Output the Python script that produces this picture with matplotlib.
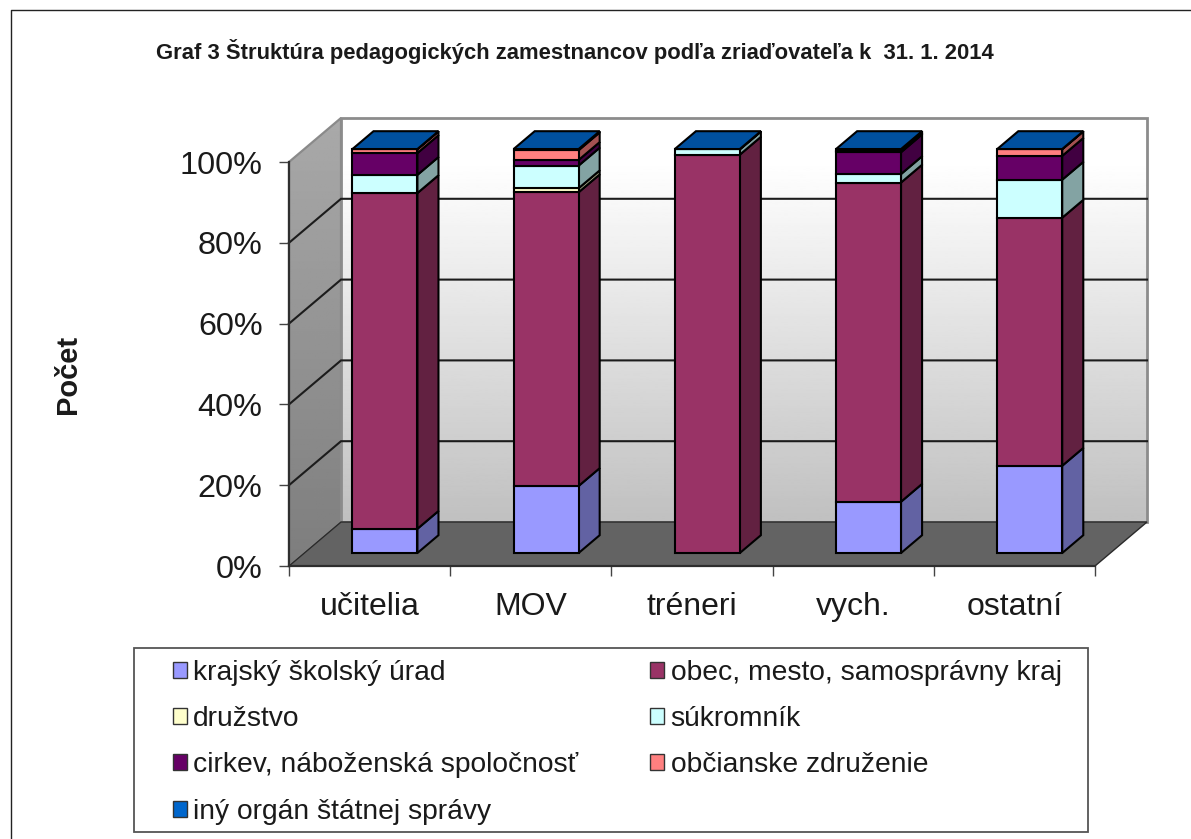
import numpy as np
import matplotlib
matplotlib.use("Agg")
import matplotlib.pyplot as plt
from matplotlib.patches import Polygon, Patch, Rectangle
from matplotlib.lines import Line2D
from matplotlib.colors import to_rgb

categories = ["učitelia", "MOV", "tréneri", "vych.", "ostatní"]
krajsky = [6.0, 16.6, 0.0, 12.7, 21.6]
obec = [83.1, 72.7, 98.6, 79.0, 61.4]
druzstvo = [0.0, 1.0, 0.0, 0.0, 0.0]
sukromnik = [4.5, 5.6, 1.3, 2.1, 9.4]
cirkev = [5.4, 1.4, 0.0, 5.4, 5.9]
obcianske = [0.95, 2.4, 0.0, 0.3, 1.65]
iny = [0.05, 0.3, 0.1, 0.5, 0.05]
series_labels = ["krajský školský úrad", "obec, mesto, samosprávny kraj", "družstvo",
                 "súkromník", "cirkev, náboženská spoločnosť", "občianske združenie",
                 "iný orgán štátnej správy"]
series_values = [krajsky, obec, druzstvo, sukromnik, cirkev, obcianske, iny]
series_colors = ["#9999FF", "#993366", "#FFFFCC", "#CCFFFF", "#660066", "#FF8080", "#0066CC"]
y_ticks = [0, 20, 40, 60, 80, 100]

W, H = 1191, 839
plt.rcParams["font.family"] = ["Liberation Sans", "DejaVu Sans"]
fig = plt.figure(figsize=(W / 100, H / 100), dpi=100, facecolor="white")

# front plane of the plot, in pixels
L, R, T, B = 289, 1095, 162, 566
ax = fig.add_axes([L / W, 1 - B / H, (R - L) / W, (B - T) / H], facecolor="none")
ax.set_xlim(0, 5)
ax.set_ylim(0, 100)

# oblique depth in data units
DX = 52 / ((R - L) / 5)
DY = 44 / ((B - T) / 100)
BAR_W = 0.403
D0, D1 = 0.295, 0.70


def proj(x, y, d):
    return (x + d * DX, y + d * DY)


def shade(c, f):
    return tuple(v * f for v in to_rgb(c))


# back wall gradient
grad = np.linspace(1.0, 0.0, 256).reshape(-1, 1)
wall_vals = 0.753 + (1 - 0.753) * np.clip(grad * 1.12, 0, 1)
ax.imshow(wall_vals, cmap="gray", vmin=0, vmax=1, aspect="auto", origin="upper",
          extent=[DX, 5 + DX, DY, 100 + DY], clip_on=False, zorder=1)

# side wall gradient clipped to a parallelogram
side_pts = [proj(0, 0, 0), proj(0, 0, 1), proj(0, 100, 1), proj(0, 100, 0)]
side_img = ax.imshow(np.linspace(0.665, 0.49, 256).reshape(-1, 1), cmap="gray", vmin=0, vmax=1,
                     aspect="auto", origin="upper", extent=[0, DX, 0, 100 + DY], zorder=1)
side_clip = Polygon(side_pts, transform=ax.transData)
side_img.set_clip_path(side_clip)
side_img.set_clip_box(fig.bbox)
ax.set_xlim(0, 5)
ax.set_ylim(0, 100)

# wall outline
ax.add_patch(Polygon(side_pts, closed=True, fill=False, ec="#8A8A8A", lw=1.6, zorder=2, clip_on=False))
ax.add_patch(Polygon([proj(0, 0, 1), proj(5, 0, 1), proj(5, 100, 1), proj(0, 100, 1)], closed=True,
                     fill=False, ec="#8C8C8C", lw=2.0, zorder=2, clip_on=False))

# floor
ax.add_patch(Polygon([proj(0, 0, 0), proj(5, 0, 0), proj(5, 0, 1), proj(0, 0, 1)], closed=True,
                     fc="#636363", ec="#2A2A2A", lw=1.0, zorder=3, clip_on=False))

# gridlines
for t in y_ticks[1:-1]:
    xs, ys = zip(proj(0, t, 0), proj(0, t, 1), proj(5, t, 1))
    ax.plot(xs, ys, color="#1c1c1c", lw=1.5, zorder=4, clip_on=False, solid_joinstyle="miter")

# stacked oblique bars
z = 5
for i in range(len(categories)):
    x0 = i + 0.5 - BAR_W / 2
    x1 = i + 0.5 + BAR_W / 2
    base = 0.0
    for vals, col in zip(series_values, series_colors):
        v = vals[i]
        if v <= 0:
            continue
        top = base + v
        front = [proj(x0, base, D0), proj(x1, base, D0), proj(x1, top, D0), proj(x0, top, D0)]
        side = [proj(x1, base, D0), proj(x1, base, D1), proj(x1, top, D1), proj(x1, top, D0)]
        ax.add_patch(Polygon(side, closed=True, fc=shade(col, 0.64), ec="black", lw=1.5,
                             zorder=z, clip_on=False, joinstyle="miter"))
        ax.add_patch(Polygon(front, closed=True, fc=col, ec="black", lw=1.5,
                             zorder=z, clip_on=False, joinstyle="miter"))
        base = top
        last = col
    lid = [proj(x0, base, D0), proj(x1, base, D0), proj(x1, base, D1), proj(x0, base, D1)]
    ax.add_patch(Polygon(lid, closed=True, fc=shade(last, 0.78), ec="black", lw=1.5,
                         zorder=z, clip_on=False, joinstyle="miter"))
    z += 1

# axes
for s in ("top", "right"):
    ax.spines[s].set_visible(False)
for s in ("left", "bottom"):
    ax.spines[s].set_color("#2e2e2e")
    ax.spines[s].set_linewidth(1.6)
    ax.spines[s].set_zorder(30)
ax.set_yticks(y_ticks)
ax.set_yticklabels([f"{t}%" for t in y_ticks], fontsize=23.3, color="#1a1a1a")
ax.set_xticks(range(6))
ax.set_xticklabels([])
ax.set_xticks([i + 0.5 for i in range(5)], minor=True)
ax.set_xticklabels(categories, minor=True, fontsize=23, color="#1a1a1a")
ax.tick_params(axis="y", length=7, width=1, color="#444444", pad=12)
ax.tick_params(axis="x", which="major", length=7, width=1, color="#444444")
ax.tick_params(axis="x", which="minor", length=0, pad=18.5)

fig.text(575 / W, 1 - 52 / H, "Graf 3 Štruktúra pedagogických zamestnancov podľa zriaďovateľa k  31. 1. 2014",
         ha="center", va="center", fontsize=15.8, fontweight="bold", color="#1a1a1a")
fig.text(68.5 / W, 1 - 374 / H, "Počet", rotation=90, ha="center", va="center",
         fontsize=21, fontweight="bold", color="#1a1a1a")

# outer frame: top and left edges only
fig.add_artist(Line2D([10.5 / W, 10.5 / W, 1], [0, 1 - 9.5 / H, 1 - 9.5 / H],
                      color="#222222", lw=1.0))

# legend frame and entries
fig.add_artist(Rectangle((134 / W, 1 - 832 / H), 954 / W, 184 / H, transform=fig.transFigure,
                         fc="white", ec="#555555", lw=1.3))
order = [0, 2, 4, 6, 1, 3, 5]
handles = [Patch(fc=series_colors[k], ec="#333333", lw=1.0) for k in order]
labels = [series_labels[k] for k in order]
leg = fig.legend(handles, labels, ncol=2, loc="upper left",
                 bbox_to_anchor=(173 / W, 1 - 660 / H),
                 fontsize=20.3, frameon=False,
                 handlelength=0.5, handleheight=0.5, handletextpad=0.22, columnspacing=2.55,
                 labelspacing=0.716, borderaxespad=0, borderpad=0, labelcolor="#1a1a1a",
                 alignment="left")
leg.set_zorder(5)

fig.savefig("out.png", dpi=100)
